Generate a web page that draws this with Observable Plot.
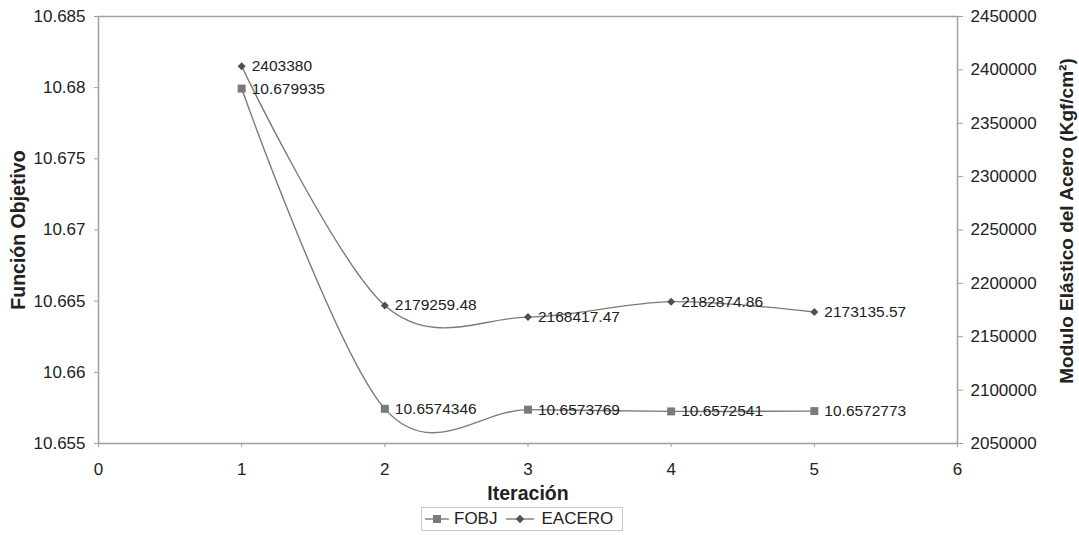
<!DOCTYPE html>
<html><head><meta charset="utf-8">
<script src="https://cdn.jsdelivr.net/npm/d3@7"></script>
<script src="https://cdn.jsdelivr.net/npm/@observablehq/plot@0.6"></script>
<style>
body{margin:0;background:#fff;font-family:"Liberation Sans",Arial,sans-serif;}
#chart{position:relative;width:1079px;height:535px;}
#legend{position:absolute;left:421px;top:507px;width:202px;height:24px;border:1px solid #c8c8c8;display:flex;align-items:center;font-size:17px;color:#222;box-sizing:border-box;}
#legend span{display:inline-flex;align-items:center;}
</style></head><body><div id="chart"></div>
<script>
const iterations = [1, 2, 3, 4, 5];
const fobj = [10.679935, 10.6574346, 10.6573769, 10.6572541, 10.6572773];
const eacero = [2403380, 2179259.48, 2168417.47, 2182874.86, 2173135.57];
const xTicks = [0, 1, 2, 3, 4, 5, 6];
const leftTicks = [10.655, 10.66, 10.665, 10.67, 10.675, 10.68, 10.685];
const rightTicks = [2050000, 2100000, 2150000, 2200000, 2250000, 2300000, 2350000, 2400000, 2450000];
const seriesNames = ["FOBJ", "EACERO"];
const titles = {x: "Iteración", yLeft: "Función Objetivo", yRight: "Modulo Elástico del Acero (Kgf/cm²)"};

const leftDomain = [10.655, 10.685];
const rightDomain = [2050000, 2450000];
const toLeft = v => leftDomain[0] + (v - rightDomain[0]) / (rightDomain[1] - rightDomain[0]) * (leftDomain[1] - leftDomain[0]);
const toRight = v => rightDomain[0] + (v - leftDomain[0]) / (leftDomain[1] - leftDomain[0]) * (rightDomain[1] - rightDomain[0]);

const fobjData = iterations.map((x, i) => ({x, y: fobj[i], label: String(fobj[i])}));
const eaceroData = iterations.map((x, i) => ({x, y: toLeft(eacero[i]), label: String(eacero[i])}));

const font = '"Liberation Sans", Arial, sans-serif';
const lineColor = "#7a7a7a";
const axisColor = "#a0a0a0";

const chart = Plot.plot({
  width: 1079, height: 505,
  marginTop: 16, marginBottom: 62, marginLeft: 98, marginRight: 122,
  x: {domain: [0, 6]},
  y: {domain: leftDomain},
  style: {fontFamily: font, fontSize: "17px", color: "#222", background: "#fff"},
  marks: [
    Plot.axisX({ticks: xTicks, tickSize: 4, tickPadding: 15, stroke: axisColor, fill: "#222", fontSize: 17, label: null, tickFormat: d => String(d)}),
    Plot.axisY({ticks: leftTicks, anchor: "left", tickSize: 4, tickPadding: 9, stroke: axisColor, fill: "#222", fontSize: 17, label: null, tickFormat: d => String(d)}),
    Plot.axisY({ticks: rightTicks.map(toLeft), anchor: "right", tickSize: 5, tickPadding: 8, stroke: axisColor, fill: "#222", fontSize: 17, label: null, tickFormat: d => String(Math.round(toRight(d)))}),
    Plot.frame({stroke: axisColor, strokeWidth: 1.5}),
    Plot.line(fobjData, {x: "x", y: "y", curve: "cardinal", stroke: lineColor, strokeWidth: 1.4}),
    Plot.line(eaceroData, {x: "x", y: "y", curve: "cardinal", stroke: lineColor, strokeWidth: 1.4}),
    Plot.dot(fobjData, {x: "x", y: "y", symbol: "square", r: 4.5, fill: "#7a7a7a", stroke: "none"}),
    Plot.dot(eaceroData, {x: "x", y: "y", symbol: "square", r: 3.2, rotate: 45, fill: "#505050", stroke: "none"}),
    Plot.text(fobjData, {x: "x", y: "y", text: "label", dx: 10, textAnchor: "start", lineAnchor: "middle", fontSize: 15.5, fill: "#222"}),
    Plot.text(eaceroData, {x: "x", y: "y", text: "label", dx: 10, textAnchor: "start", lineAnchor: "middle", fontSize: 15.5, fill: "#222"}),
    Plot.text([titles.x], {text: d => d, frameAnchor: "bottom", dy: 50, textAnchor: "middle", lineAnchor: "middle", fontSize: 19.5, fontWeight: "bold", fill: "#222"}),
    Plot.text([titles.yLeft], {text: d => d, frameAnchor: "left", dx: -80, rotate: -90, textAnchor: "middle", lineAnchor: "middle", fontSize: 19.5, fontWeight: "bold", fill: "#222"}),
    Plot.text([titles.yRight], {text: d => d, frameAnchor: "right", dx: 109, dy: -9, rotate: -90, textAnchor: "middle", lineAnchor: "middle", fontSize: 19, fontWeight: "bold", fill: "#222"})
  ]
});
document.getElementById("chart").appendChild(chart);

const legend = document.createElement("div");
legend.id = "legend";
const sq = `<svg width="26" height="12" style="margin-left:2px"><line x1="1" y1="6" x2="25" y2="6" stroke="${lineColor}" stroke-width="1.4"/><rect x="9" y="2" width="8" height="8" fill="#7a7a7a"/></svg>`;
const dm = `<svg width="30" height="12" style="margin-left:8px"><line x1="1" y1="6" x2="29" y2="6" stroke="${lineColor}" stroke-width="1.4"/><rect x="12" y="3" width="6" height="6" fill="#505050" transform="rotate(45 15 6)"/></svg>`;
legend.innerHTML = `<span>${sq}<span style="margin-left:4px">${seriesNames[0]}</span></span><span>${dm}<span style="margin-left:6px">${seriesNames[1]}</span></span>`;
document.getElementById("chart").appendChild(legend);
</script>
</body></html>
